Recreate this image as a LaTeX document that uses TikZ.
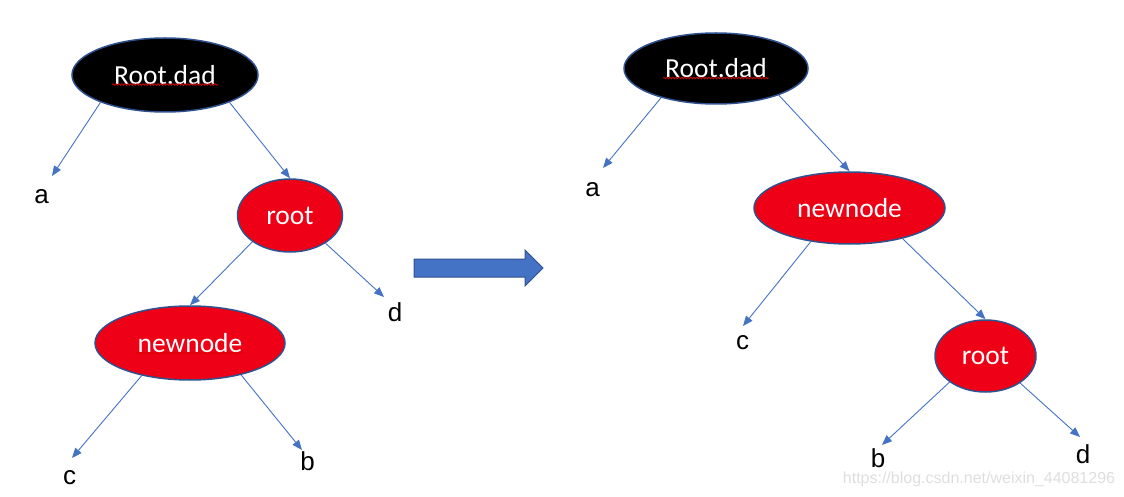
\documentclass[tikz,border=0pt]{standalone}
\usepackage{fontspec}
\setmainfont{Carlito}
\newfontfamily\lblfont{Liberation Sans}
\usetikzlibrary{shapes.geometric,arrows.meta,decorations.pathmorphing}
\definecolor{nodered}{RGB}{238,0,22}
\definecolor{rimblue}{RGB}{47,82,143}
\definecolor{linkblue}{RGB}{68,114,196}
\definecolor{markgray}{RGB}{222,222,222}
\tikzset{
  treenode/.style={ellipse, draw=rimblue, line width=1.5pt, inner sep=0pt, text=white,
    font=\fontsize{27.5}{32}\selectfont},
  blacknode/.style={treenode, fill=black},
  rednode/.style={treenode, fill=nodered},
  leaf/.style={inner sep=0pt, font=\lblfont\fontsize{26}{30}\selectfont},
  link/.style={draw=linkblue, line width=0.9pt, -{Triangle[length=10pt,width=8pt]}},
  spell/.style={draw=red!85!black, line width=0.7pt, decorate,
    decoration={snake, amplitude=0.9pt, segment length=3pt}},
}
\begin{document}
\begin{tikzpicture}[x=1pt,y=-1pt]
\useasboundingbox (0,0) rectangle (1124,497);
% ---------- left tree ----------
\node[blacknode, minimum width=186pt, minimum height=74pt] (rdL) at (165,75) {Root.dad};
\node[rednode, minimum width=105pt, minimum height=73pt] (rootL) at (290,215.5) {root};
\node[rednode, minimum width=190pt, minimum height=74pt] (nnL) at (190,343) {newnode};
\node[leaf] (aL) at (41.5,197) {a};
\node[leaf] (dL) at (395,312) {d};
\node[leaf] (cL) at (69.5,478) {c};
\node[leaf] (bL) at (307.5,461.7) {b};
\coordinate (taL) at (52,176);
\coordinate (tdL) at (384,297);
\coordinate (tcL) at (72,458);
\coordinate (tbL) at (302,450);
\draw[link] (rdL.203) -- (taL);
\draw[link] (rdL.337) -- (rootL.north);
\draw[link] (rootL.215) -- (nnL.north);
\draw[link] (rootL.322) -- (tdL);
\draw[link] (nnL.214) -- (tcL);
\draw[link] (nnL.328) -- (tbL);
\draw[spell] ([shift={(-53,9.5)}]rdL.center) -- ([shift={(53,9.5)}]rdL.center);
\draw[spell] ([shift={(-54,10)}]nnL.center) -- ([shift={(54,10)}]nnL.center);
% ---------- big arrow ----------
\draw[fill=linkblue, draw=rimblue, line width=1pt]
  (414,259) -- (525,259) -- (525,250) -- (543,268) -- (525,286) -- (525,277) -- (414,277) -- cycle;
% ---------- right tree ----------
\node[blacknode, minimum width=184pt, minimum height=71pt] (rdR) at (716,68.5) {Root.dad};
\node[rednode, minimum width=191pt, minimum height=72pt] (nnR) at (849.5,208) {newnode};
\node[rednode, minimum width=101pt, minimum height=72pt] (rootR) at (985.5,356) {root};
\node[leaf] (aR) at (592.5,189.7) {a};
\node[leaf] (cR) at (742.5,342.7) {c};
\node[leaf] (bR) at (878,458.5) {b};
\node[leaf] (dR) at (1083,454) {d};
\coordinate (taR) at (603,168);
\coordinate (tcR) at (743,326);
\coordinate (tbR) at (882,445);
\coordinate (tdR) at (1080,437);
\draw[link] (rdR.208) -- (taR);
\draw[link] (rdR.337) -- (nnR.north);
\draw[link] (nnR.221) -- (tcR);
\draw[link] (nnR.330) -- (rootR.north);
\draw[link] (rootR.216) -- (tbR);
\draw[link] (rootR.322) -- (tdR);
\draw[spell] ([shift={(-53,9.5)}]rdR.center) -- ([shift={(53,9.5)}]rdR.center);
\draw[spell] ([shift={(-54,10)}]nnR.center) -- ([shift={(54,10)}]nnR.center);
% ---------- watermark ----------
\node[inner sep=0pt, text=markgray, font=\lblfont\fontsize{16}{19}\selectfont] (mark) at (979,479.5) {https://blog.csdn.net/weixin\_44081296};
\end{tikzpicture}
\end{document}
